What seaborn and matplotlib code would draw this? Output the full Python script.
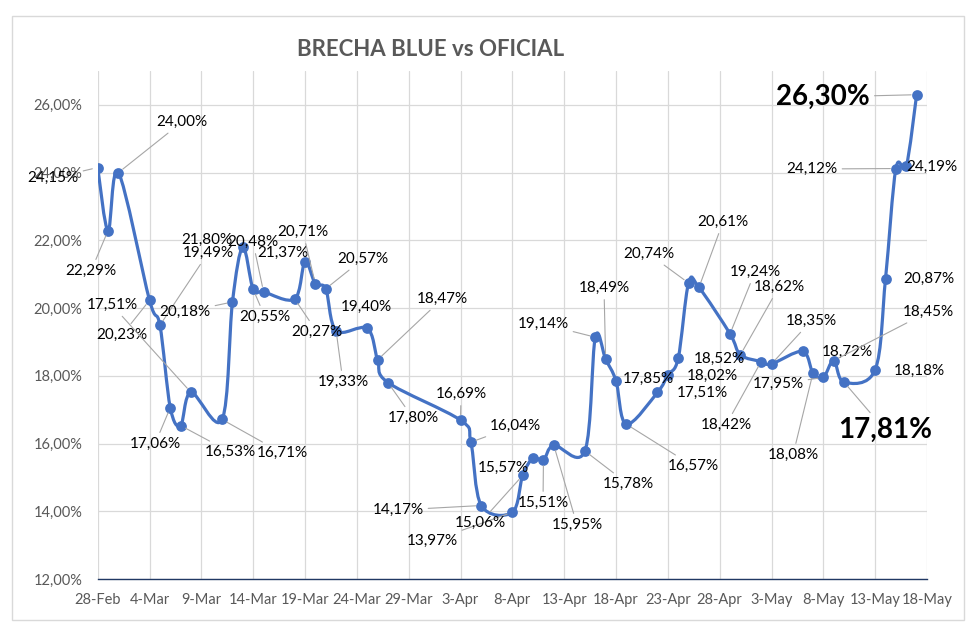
import numpy as np
import pandas as pd
import matplotlib
matplotlib.use("Agg")
import matplotlib.pyplot as plt
from matplotlib.path import Path
from matplotlib.patches import PathPatch, Rectangle
import seaborn as sns

# ---------------- data ----------------
dates = [
    "2024-02-28", "2024-02-29", "2024-03-01", "2024-03-04", "2024-03-05", "2024-03-06",
    "2024-03-07", "2024-03-08", "2024-03-11", "2024-03-12", "2024-03-13", "2024-03-14",
    "2024-03-15", "2024-03-18", "2024-03-19", "2024-03-20", "2024-03-21", "2024-03-22",
    "2024-03-25", "2024-03-26", "2024-03-27", "2024-04-03", "2024-04-04", "2024-04-05",
    "2024-04-08", "2024-04-09", "2024-04-10", "2024-04-11", "2024-04-12", "2024-04-15",
    "2024-04-16", "2024-04-17", "2024-04-18", "2024-04-19", "2024-04-22", "2024-04-23",
    "2024-04-24", "2024-04-25", "2024-04-26", "2024-04-29", "2024-04-30", "2024-05-02",
    "2024-05-03", "2024-05-06", "2024-05-07", "2024-05-08", "2024-05-09", "2024-05-10",
    "2024-05-13", "2024-05-14", "2024-05-15", "2024-05-16", "2024-05-17",
]
brecha = [
    24.15, 22.29, 24.00, 20.23, 19.49, 17.06,
    16.53, 17.51, 16.71, 20.18, 21.80, 20.55,
    20.48, 20.27, 21.37, 20.71, 20.57, 19.33,
    19.40, 18.47, 17.80, 16.69, 16.04, 14.17,
    13.97, 15.06, 15.57, 15.51, 15.95, 15.78,
    19.14, 18.49, 17.85, 16.57, 17.51, 18.02,
    18.52, 20.74, 20.61, 19.24, 18.62, 18.42,
    18.35, 18.72, 18.08, 17.95, 18.45, 17.81,
    18.18, 20.87, 24.12, 24.19, 26.30,
]
x_tick_labels = ["28-Feb", "4-Mar", "9-Mar", "14-Mar", "19-Mar", "24-Mar", "29-Mar",
                 "3-Apr", "8-Apr", "13-Apr", "18-Apr", "23-Apr", "28-Apr", "3-May",
                 "8-May", "13-May", "18-May"]
y_ticks = [12, 14, 16, 18, 20, 22, 24, 26]
title = "BRECHA BLUE vs OFICIAL"
highlight = {"2024-05-10", "2024-05-17"}

# -------- label layout (figure pixels from top-left) and leader flag --------
label_layout = [
    (53, 178, 1), (91, 271, 1), (182, 122, 1), (122, 335, 1), (208, 253, 1), (155, 444, 1),
    (230, 452, 1), (112, 305, 1), (282, 453, 1), (185, 312, 1), (207, 240, 0), (265, 317, 1),
    (253, 242, 1), (317, 332, 1), (283, 253, 0), (303, 232, 1), (363, 259, 1), (343, 382, 1),
    (366, 307, 0), (442, 299, 1), (413, 418, 1), (461, 394, 1), (515, 426, 1), (398, 510, 1),
    (432, 541, 1), (480, 523, 1), (503, 468, 0), (543, 503, 1), (577, 525, 1), (628, 484, 1),
    (543, 324, 1), (604, 288, 1), (648, 379, 0), (693, 466, 1), (702, 393, 0), (712, 376, 0),
    (719, 359, 0), (649, 254, 1), (723, 222, 1), (755, 272, 1), (779, 287, 1), (726, 425, 1),
    (811, 321, 1), (847, 352, 0), (793, 455, 1), (778, 384, 1), (928, 312, 1), (885, 430, 1),
    (919, 371, 0), (929, 279, 0), (812, 169, 1), (932, 167, 0), (823, 97, 1),
]

# ---------------- frame ----------------
W, H = 980, 631
start = pd.Timestamp("2024-02-28")
df = pd.DataFrame({"fecha": pd.to_datetime(dates), "brecha": brecha})
df["dia"] = (df["fecha"] - start).dt.days

sns.set_theme(style="white")
plt.rcParams["font.family"] = ["Lato", "DejaVu Sans"]

fig = plt.figure(figsize=(W / 100, H / 100), dpi=100)
fig.patch.set_facecolor("white")
ax = fig.add_axes([97.7 / W, (H - 579) / H, (927 - 97.7) / W, (579 - 71) / H])

# outer chart border
fig.patches.append(Rectangle((12 / W, (H - 620) / H), 952 / W, 604 / H,
                             transform=fig.transFigure, fill=False,
                             edgecolor="#D9D9D9", lw=1.0))

LINE = "#4472C4"

# smoothed line (Excel-style Bezier through the data points)
P = df[["dia", "brecha"]].to_numpy(dtype=float)
n = len(P)
verts = [tuple(P[0])]
codes = [Path.MOVETO]
for i in range(n - 1):
    p0 = P[i - 1] if i > 0 else P[i]
    p1, p2 = P[i], P[i + 1]
    p3 = P[i + 2] if i + 2 < n else P[i + 1]
    c1 = p1 + (p2 - p0) / 6.0
    c2 = p2 - (p3 - p1) / 6.0
    verts += [tuple(c1), tuple(c2), tuple(p2)]
    codes += [Path.CURVE4] * 3
ax.add_patch(PathPatch(Path(verts, codes), fill=False, edgecolor=LINE, lw=2.3,
                       capstyle="round", joinstyle="round", zorder=3))

sns.scatterplot(data=df, x="dia", y="brecha", color=LINE, s=60, linewidth=0,
                zorder=4, ax=ax, legend=False)

# axes styling
ax.set_xlim(0, 80)
ax.set_ylim(12, 27.0)
ax.set_xticks(range(0, 81, 5))
ax.set_xticklabels(x_tick_labels)
ax.set_yticks(y_ticks)
ax.set_yticklabels([f"{v:.2f}".replace(".", ",") + "%" for v in y_ticks])
ax.grid(True, color="#D9D9D9", lw=0.9)
ax.set_axisbelow(True)
for s in ["top", "right", "left"]:
    ax.spines[s].set_visible(False)
ax.spines["bottom"].set_color("#203864")
ax.spines["bottom"].set_linewidth(1.0)
ax.spines["bottom"].set_zorder(2)
ax.tick_params(axis="both", length=0, labelcolor="#595959", labelsize=10.5)
ax.tick_params(axis="y", pad=11)
ax.tick_params(axis="x", pad=10)
ax.set_xlabel("")
ax.set_ylabel("")

fig.text(431 / W, 1 - 50 / H, title, ha="center", va="center",
         fontsize=16, fontweight="bold", color="#595959")

# data labels
for (d, v, f), (px, py, lead) in zip(zip(df["dia"], df["brecha"], dates), label_layout):
    txt = f"{v:.2f}".replace(".", ",") + "%"
    big = f in highlight
    kw = dict(xy=(d, v), xycoords="data", xytext=(px, H - py),
              textcoords="figure pixels", ha="center", va="center",
              fontsize=20 if big else 11, fontweight="bold" if big else "normal",
              color="black", zorder=5, annotation_clip=False)
    if lead:
        kw["arrowprops"] = dict(arrowstyle="-", color="#A6A6A6", lw=0.8,
                                shrinkA=1, shrinkB=4)
    ax.annotate(txt, **kw)

fig.savefig("out.png", dpi=100, facecolor="white")
